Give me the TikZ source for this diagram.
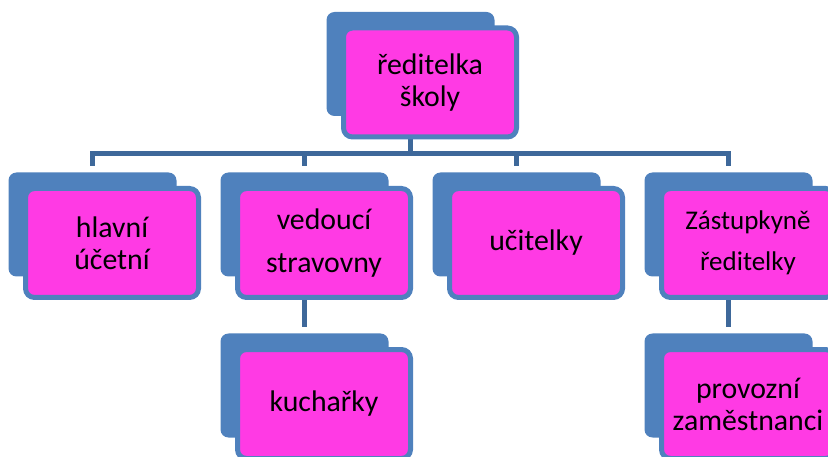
\documentclass[tikz,border=0pt]{standalone}
\usepackage{fontspec}
\setmainfont{Carlito}
\usetikzlibrary{positioning,backgrounds}
\definecolor{boxpink}{RGB}{255,58,228}
\definecolor{boxblue}{RGB}{79,129,189}
\definecolor{linkblue}{RGB}{62,104,154}

\begin{document}
\begin{tikzpicture}[x=1pt,y=-1pt,node distance=212pt,
  front/.style={draw=boxblue,line width=5pt,fill=boxpink,rounded corners=9pt,
    minimum width=173pt,minimum height=109pt,inner sep=0pt,align=center,
    font=\fontsize{29.8}{32}\selectfont},
  back/.style={fill=boxblue,rounded corners=8pt,minimum width=168pt,
    minimum height=104pt,inner sep=0pt,xshift=-19.5pt,yshift=18.5pt},
  link/.style={draw=linkblue,line width=5pt}]
  \useasboundingbox (0,0) rectangle (828,457);
  \clip (0,0) rectangle (828,457);
  \node[front] (red)  at (430,82.5)  {ředitelka\\školy};
  \node[front] (uce)  at (112,243)   {hlavní\\účetní};
  \node[front] (str)  [right of=uce] {vedoucí\\[11pt]stravovny};
  \node[front] (uci)  [right of=str] {učitelky};
  \node[front] (zas)  [right of=uci,font=\fontsize{27}{41}\selectfont] {Zástupkyně\\ředitelky};
  \node[front] (kuch) [below of=str,node distance=161pt] {kuchařky};
  \node[front] (prov) [below of=zas,node distance=161pt] {provozní\\zaměstnanci};
  \begin{pgfonlayer}{background}
    \foreach \n in {red,uce,str,uci,zas,kuch,prov}
      \node[back] (\n-b) at (\n) {};
    \coordinate (bar) at (0,154);
    \draw[link] (red-b.south) -- (red-b |- bar);
    \foreach \n in {uce,str,uci,zas}
      \draw[link,shorten >=6pt] (red-b |- bar) -| (\n-b.north);
    \draw[link,shorten >=6pt] (str-b.south) -- (kuch-b.north);
    \draw[link,shorten >=6pt] (zas-b.south) -- (prov-b.north);
  \end{pgfonlayer}
\end{tikzpicture}
\end{document}
